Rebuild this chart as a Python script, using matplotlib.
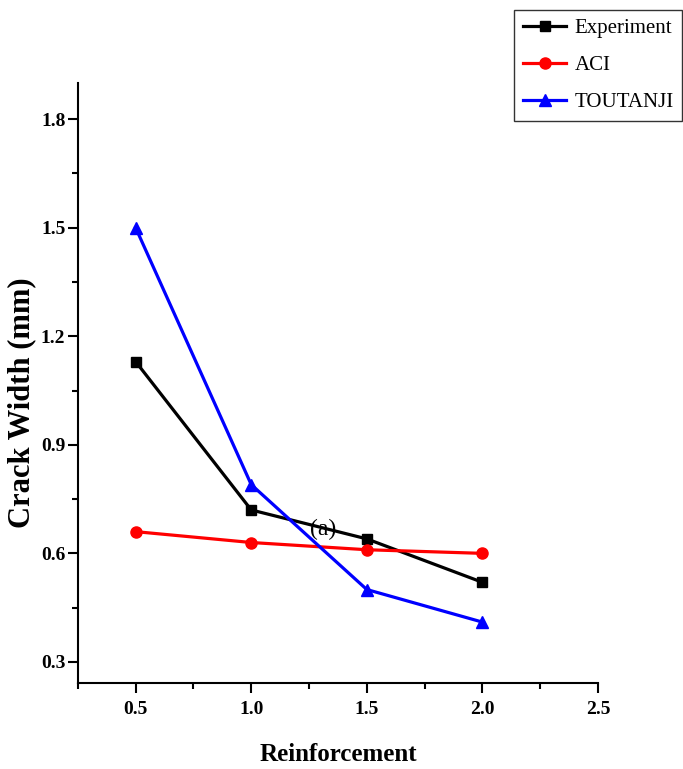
import matplotlib
matplotlib.use("Agg")
import matplotlib.pyplot as plt
from matplotlib.ticker import MultipleLocator

x = [0.5, 1.0, 1.5, 2.0]
experiment = [1.13, 0.72, 0.64, 0.52]
aci = [0.66, 0.63, 0.61, 0.60]
toutanji = [1.50, 0.79, 0.50, 0.41]
xticks = [0.5, 1.0, 1.5, 2.0, 2.5]
yticks = [0.3, 0.6, 0.9, 1.2, 1.5, 1.8]

plt.rcParams['font.family'] = ['Liberation Serif', 'DejaVu Serif']

fig = plt.figure(figsize=(6.83, 7.69), dpi=100)
ax = fig.add_axes([0.114, 0.112, 0.7615, 0.78])

ax.plot(x, experiment, color='black', lw=2.3, marker='s', ms=7.5, label='Experiment')
ax.plot(x, aci, color='red', lw=2.3, marker='o', ms=8, label='ACI')
ax.plot(x, toutanji, color='blue', lw=2.3, marker='^', ms=8.5, label='TOUTANJI')

ax.set_xlim(0.25, 2.5)
ax.set_ylim(0.242, 1.9)
ax.set_xticks(xticks)
ax.set_yticks(yticks)
ax.xaxis.set_minor_locator(MultipleLocator(0.25))
ax.yaxis.set_minor_locator(MultipleLocator(0.15))
ax.set_xticklabels([f"{v:.1f}" for v in xticks], fontweight='bold', fontsize=14)
ax.set_yticklabels([f"{v:.1f}" for v in yticks], fontweight='bold', fontsize=14)
ax.tick_params(which='major', direction='out', length=7, width=1.5)
ax.tick_params(which='minor', direction='out', length=4, width=1.5)
ax.tick_params(axis='x', which='major', pad=6)
ax.tick_params(axis='y', which='major', pad=2)

for s in ['top', 'right']:
    ax.spines[s].set_visible(False)
for s in ['left', 'bottom']:
    ax.spines[s].set_linewidth(1.5)

ax.set_xlabel('Reinforcement', fontsize=18, fontweight='bold')
ax.xaxis.set_label_coords(0.5, -0.12)
ax.xaxis.label.set_va('center')
ax.set_ylabel('Crack Width (mm)', fontsize=22, fontweight='bold')
ax.yaxis.set_label_coords(-0.108, 0.467)
ax.yaxis.label.set_va('center')

ax.text(1.31, 0.666, '(a)', fontsize=17, ha='center', va='center')

leg = fig.legend(loc='upper right', bbox_to_anchor=(0.999, 0.987), fontsize=15,
                 frameon=True, fancybox=False, edgecolor='black', handlelength=2.1,
                 handletextpad=0.4, borderpad=0.4, labelspacing=0.85, borderaxespad=0)
leg.get_frame().set_linewidth(1.0)

fig.savefig('out.png', dpi=100)
